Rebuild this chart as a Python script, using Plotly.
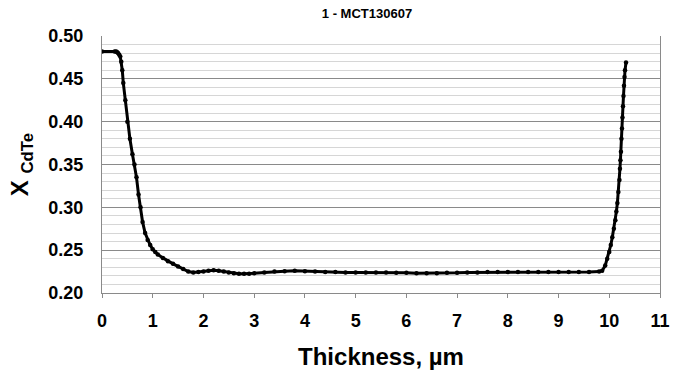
import plotly.graph_objects as go

thickness_um = [
    0.00, 0.25, 0.28, 0.30, 0.32, 0.34, 0.36, 0.38, 0.40, 0.42, 0.46, 0.50,
    0.55, 0.60, 0.64, 0.68, 0.72, 0.76, 0.80, 0.85, 0.90, 0.95, 1.00, 1.05,
    1.10, 1.20, 1.30, 1.40, 1.50, 1.60, 1.70, 1.80, 1.90, 2.00, 2.10, 2.20,
    2.30, 2.40, 2.50, 2.60, 2.70, 2.80, 2.90, 3.00, 3.20, 3.40, 3.60, 3.80,
    4.00, 4.20, 4.40, 4.60, 4.80, 5.00, 5.20, 5.40, 5.60, 5.80, 6.00, 6.20,
    6.40, 6.60, 6.80, 7.00, 7.20, 7.40, 7.60, 7.80, 8.00, 8.20, 8.40, 8.60,
    8.80, 9.00, 9.20, 9.40, 9.60, 9.80, 9.86, 9.92, 9.96, 10.00, 10.03, 10.06,
    10.09, 10.12, 10.14, 10.16, 10.18, 10.20, 10.21, 10.22, 10.23, 10.24,
    10.25, 10.26, 10.27, 10.28, 10.29, 10.30, 10.31, 10.33,
]
x_cdte = [
    0.482, 0.482, 0.482, 0.481, 0.480, 0.478, 0.476, 0.470, 0.460, 0.445, 0.425, 0.400,
    0.380, 0.362, 0.350, 0.335, 0.315, 0.300, 0.283, 0.270, 0.262, 0.256, 0.251, 0.248,
    0.245, 0.241, 0.237, 0.234, 0.231, 0.228, 0.225, 0.224, 0.2245, 0.225, 0.226, 0.2265,
    0.226, 0.225, 0.224, 0.223, 0.2225, 0.2225, 0.2225, 0.223, 0.224, 0.225, 0.2255, 0.226,
    0.2255, 0.225, 0.2245, 0.2245, 0.224, 0.224, 0.224, 0.224, 0.224, 0.2235, 0.2235, 0.223,
    0.223, 0.223, 0.2235, 0.2235, 0.224, 0.224, 0.2245, 0.2245, 0.2245, 0.2245, 0.2245, 0.2245,
    0.2245, 0.2245, 0.2245, 0.2245, 0.2245, 0.225, 0.226, 0.232, 0.240, 0.248, 0.256, 0.265,
    0.275, 0.285, 0.295, 0.305, 0.318, 0.332, 0.345, 0.355, 0.365, 0.380,
    0.392, 0.405, 0.418, 0.430, 0.442, 0.452, 0.460, 0.469,
]
x_ticks = list(range(0, 12))
y_ticks = [0.20, 0.25, 0.30, 0.35, 0.40, 0.45, 0.50]

font_family = "Liberation Sans, Arial, sans-serif"

fig = go.Figure()
fig.add_trace(go.Scatter(
    x=thickness_um, y=x_cdte, mode="lines+markers",
    line=dict(color="black", width=3),
    marker=dict(color="black", size=4.5),
    showlegend=False,
))

fig.update_layout(
    width=680, height=377,
    margin=dict(l=102, r=10, t=36, b=84),
    paper_bgcolor="white", plot_bgcolor="white",
    font=dict(family=font_family, color="black"),
    title=dict(text="1 - MCT130607", x=367 / 680, xref="container", xanchor="center",
               y=1 - 13 / 377, yref="container", yanchor="middle",
               font=dict(size=13, weight="bold", family=font_family)),
)

fig.update_xaxes(
    range=[0, 11], tickvals=x_ticks, ticktext=[str(v) for v in x_ticks],
    showgrid=False, zeroline=False,
    showline=True, linecolor="#8a8a8a", linewidth=1,
    ticks="outside", ticklen=4, tickcolor="#8a8a8a",
    ticklabelstandoff=7,
    tickfont=dict(size=18, weight="bold", family=font_family),
    title=dict(text="Thickness, µm", standoff=18,
               font=dict(size=24, weight="bold", family=font_family)),
)
fig.update_yaxes(
    range=[0.20, 0.50], tickvals=y_ticks, tickformat=".2f",
    showgrid=True, gridcolor="#8a8a8a", gridwidth=1, zeroline=False,
    showline=True, linecolor="#8a8a8a", linewidth=1, mirror=True,
    ticks="", ticklabelstandoff=14,
    minor=dict(dtick=0.01, tick0=0.20, showgrid=True, gridcolor="#d6d6d6", gridwidth=1),
    tickfont=dict(size=18, weight="bold", family=font_family),
    title=dict(text="X <sub>CdTe</sub>", standoff=12,
               font=dict(size=24, weight="bold", family=font_family)),
)

fig.write_html("out.html")
